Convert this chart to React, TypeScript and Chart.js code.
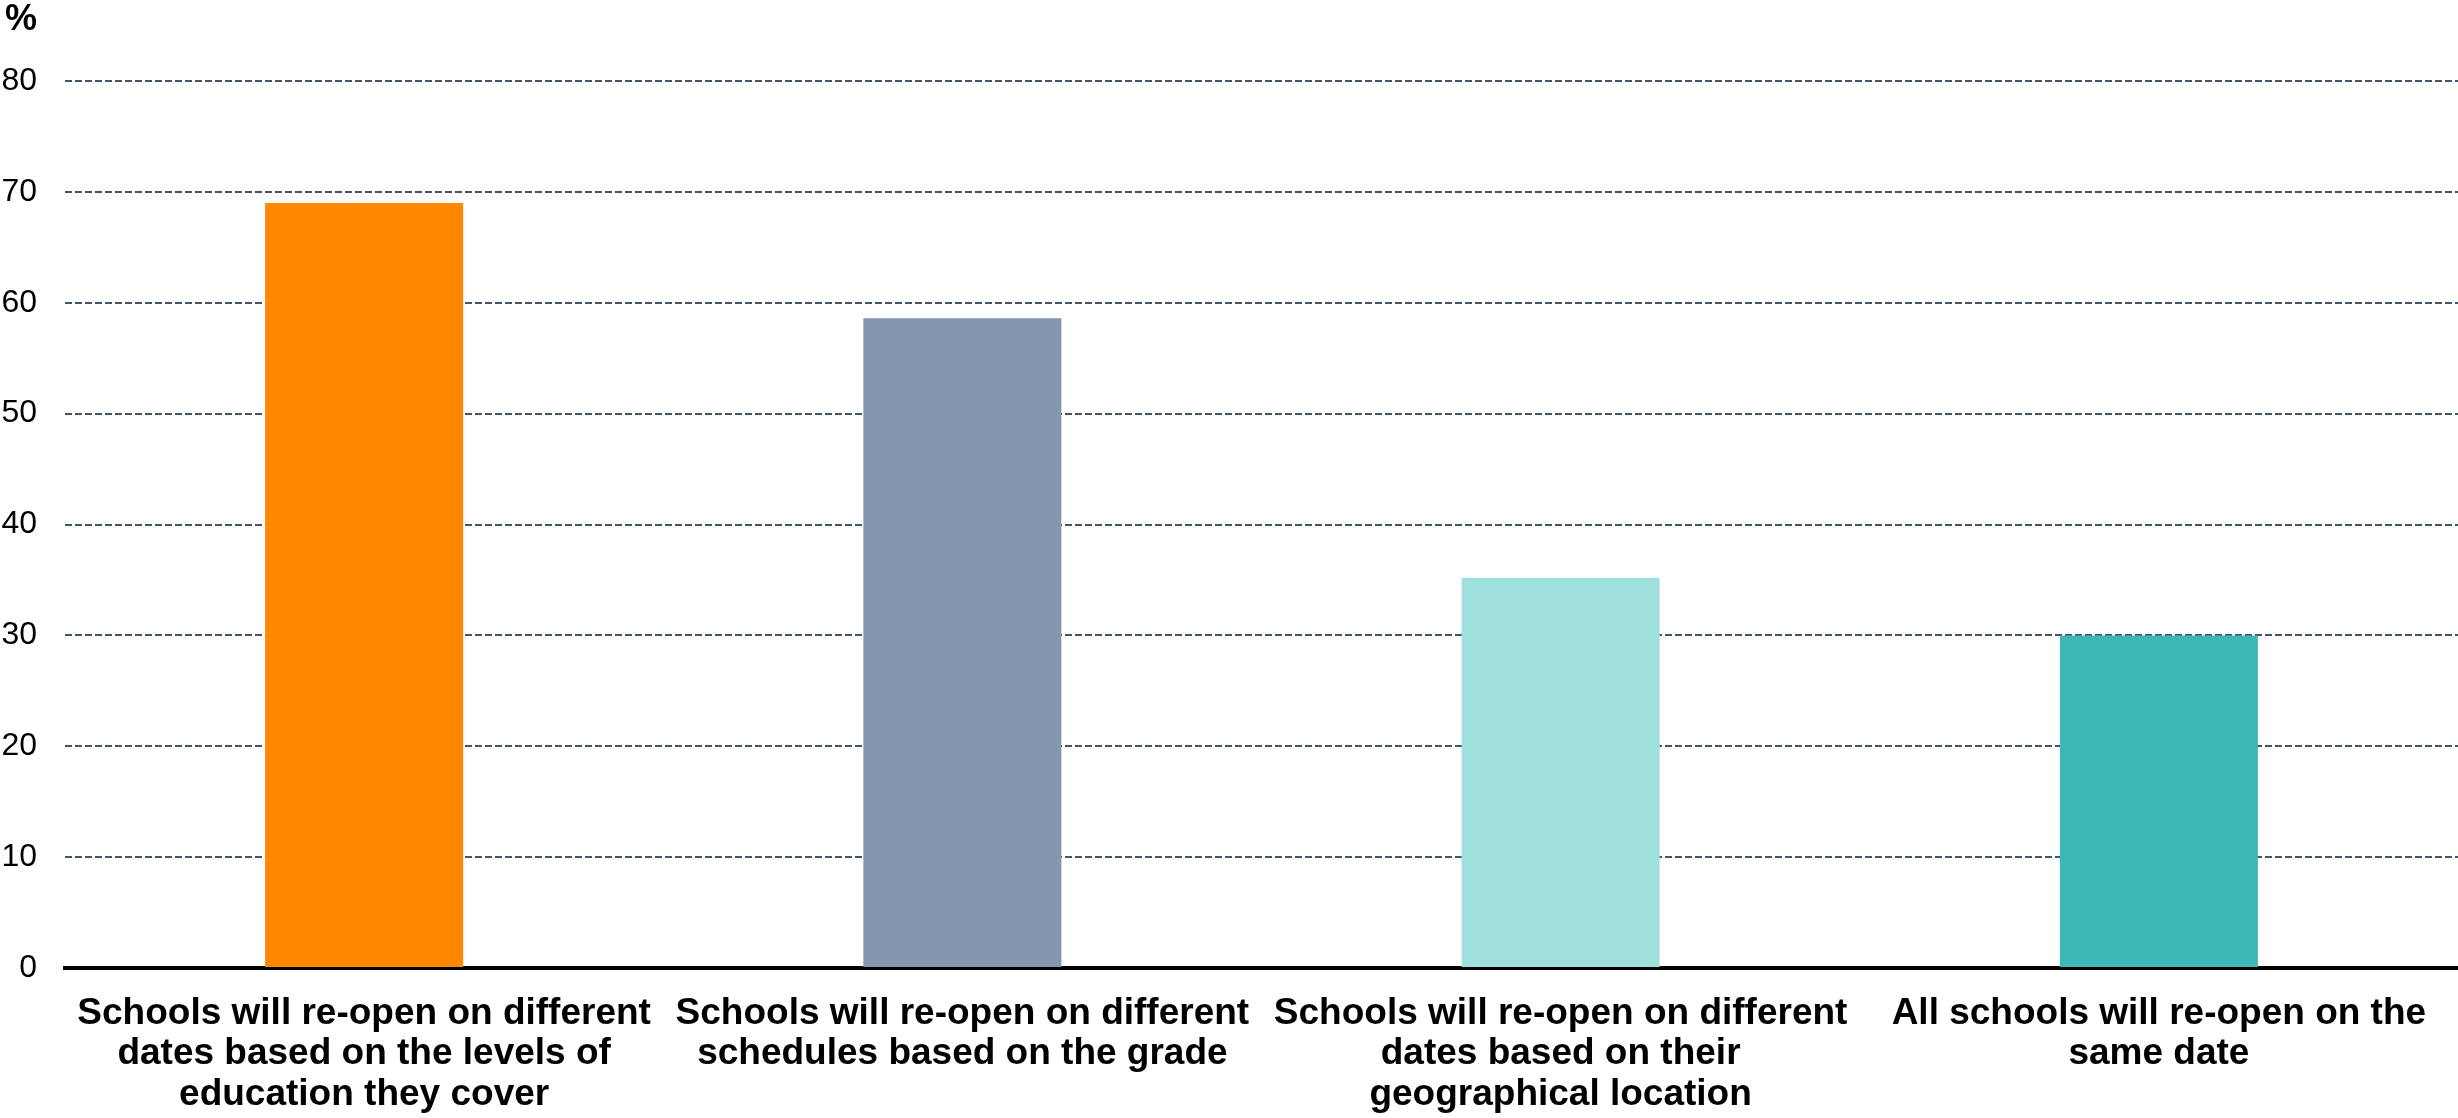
import React, { useEffect, useRef } from "react";
import { Chart, registerables } from "chart.js";

Chart.register(...registerables);

const categories: string[][] = [
  ["Schools will re-open on different", "dates based on the levels of", "education they cover"],
  ["Schools will re-open on different", "schedules based on the grade"],
  ["Schools will re-open on different", "dates based on their", "geographical location"],
  ["All schools will re-open on the", "same date"],
];
const values: number[] = [69, 58.6, 35.2, 30];
const barColors: string[] = ["#FF8800", "#8497AF", "#9EE0DE", "#3DB7B8"];
const yTicks = { min: 0, max: 80, step: 10 };
const unitLabel = "%";

const FONT = "'Liberation Sans', Arial, sans-serif";

export default function App() {
  const ref = useRef<HTMLCanvasElement | null>(null);

  useEffect(() => {
    if (!ref.current) return;
    const unitPlugin = {
      id: "unitLabel",
      afterDraw(chart: any) {
        const ctx = chart.ctx;
        ctx.save();
        ctx.font = `bold 36px ${FONT}`;
        ctx.fillStyle = "#000";
        ctx.textAlign = "left";
        ctx.textBaseline = "alphabetic";
        ctx.fillText(unitLabel, 5, 30);
        ctx.restore();
      },
    };
    const chart = new Chart(ref.current, {
      type: "bar",
      data: {
        labels: categories,
        datasets: [
          {
            data: values,
            backgroundColor: barColors,
            borderWidth: 0,
            categoryPercentage: 1,
            barPercentage: 0.331,
          },
        ],
      },
      options: {
        animation: false,
        responsive: false,
        maintainAspectRatio: false,
        layout: { padding: { top: 81, left: 0, right: 0, bottom: 0 } },
        plugins: { legend: { display: false }, tooltip: { enabled: false } },
        scales: {
          x: {
            grid: { display: false, drawTicks: false },
            border: { display: true, color: "#000", width: 4 },
            ticks: {
              color: "#000",
              font: { family: FONT, size: 37, weight: "bold", lineHeight: 1.1 },
              padding: 25,
              maxRotation: 0,
              minRotation: 0,
              autoSkip: false,
            },
            afterFit(scale: any) {
              scale.height = 150;
            },
          },
          y: {
            min: yTicks.min,
            max: yTicks.max,
            grid: {
              drawTicks: false,
              lineWidth: 2,
              color: (ctx: any) => (ctx.tick && ctx.tick.value === 0 ? "rgba(0,0,0,0)" : "#44546A"),
            },
            border: { display: false, dash: [7, 3] },
            ticks: {
              stepSize: yTicks.step,
              color: "#000",
              font: { family: FONT, size: 32 },
              padding: 28,
            },
            afterFit(scale: any) {
              scale.width = 65;
            },
          },
        },
      },
      plugins: [unitPlugin],
    });
    return () => chart.destroy();
  }, []);

  return (
    <div style={{ position: "absolute", left: 0, top: 0, width: 2458, height: 1118, background: "#fff" }}>
      <canvas ref={ref} width={2458} height={1118} style={{ display: "block" }} />
    </div>
  );
}
